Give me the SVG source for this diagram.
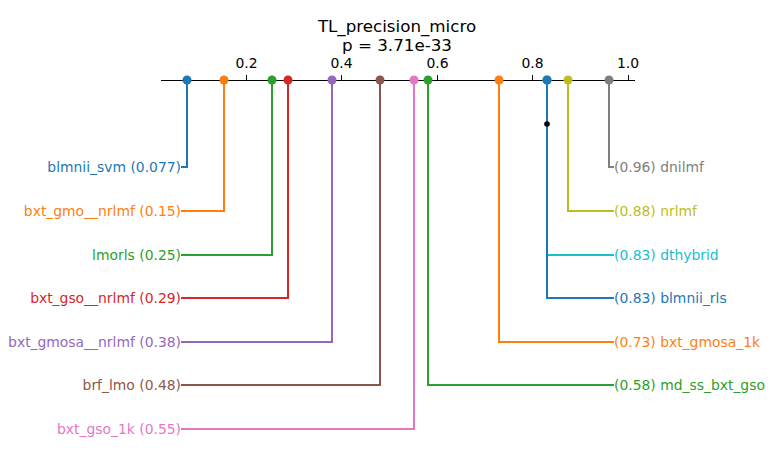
<svg xmlns="http://www.w3.org/2000/svg" width="774" height="462" viewBox="0 0 774 462">
<style>
text{font-family:"DejaVu Sans",sans-serif;font-size:13.9px}
.t{font-size:16.7px;text-anchor:middle;fill:#000}
.tk{text-anchor:middle;fill:#000}
.l{text-anchor:end}
.c path{fill:none;stroke-width:2}
</style>
<rect width="774" height="462" fill="#fff"/>
<g id="title">
<text class="t" x="397" y="32">TL_precision_micro</text>
<text class="t" x="397" y="51">p = 3.71e-33</text>
</g>
<g id="axis">
<line x1="161" y1="80.5" x2="635" y2="80.5" stroke="#000" stroke-width="1"/>
<g stroke="#000" stroke-width="1">
<line x1="246.5" y1="75" x2="246.5" y2="80"/>
<line x1="341.5" y1="75" x2="341.5" y2="80"/>
<line x1="437.5" y1="75" x2="437.5" y2="80"/>
<line x1="532.5" y1="75" x2="532.5" y2="80"/>
<line x1="628.5" y1="75" x2="628.5" y2="80"/>
</g>
<text class="tk" x="246.5" y="68">0.2</text>
<text class="tk" x="341.5" y="68">0.4</text>
<text class="tk" x="437.5" y="68">0.6</text>
<text class="tk" x="532.5" y="68">0.8</text>
<text class="tk" x="628" y="68">1.0</text>
</g>
<g id="connectors" class="c">
<path stroke="#1f77b4" d="M187 80V167H181"/>
<path stroke="#ff7f0e" d="M224 80V211H181"/>
<path stroke="#2ca02c" d="M272 80V255H181"/>
<path stroke="#d62728" d="M288 80V298H181"/>
<path stroke="#9467bd" d="M332 80V342H181"/>
<path stroke="#8c564b" d="M380 80V385H181"/>
<path stroke="#e377c2" d="M414 80V429H181"/>
<path stroke="#2ca02c" d="M428 80V385H614"/>
<path stroke="#ff7f0e" d="M499 80V342H614"/>
<path stroke="#17becf" d="M547 80V255H614"/>
<path stroke="#1f77b4" d="M547 80V298H614"/>
<path stroke="#bcbd22" d="M568 80V211H614"/>
<path stroke="#7f7f7f" d="M609 80V167H614"/>
</g>
<g id="clique">
<circle cx="547" cy="124" r="2.8" fill="#000"/>
</g>
<g id="dots">
<circle cx="187" cy="80" r="4.5" fill="#1f77b4"/>
<circle cx="224" cy="80" r="4.5" fill="#ff7f0e"/>
<circle cx="272" cy="80" r="4.5" fill="#2ca02c"/>
<circle cx="288" cy="80" r="4.5" fill="#d62728"/>
<circle cx="332" cy="80" r="4.5" fill="#9467bd"/>
<circle cx="380" cy="80" r="4.5" fill="#8c564b"/>
<circle cx="414" cy="80" r="4.5" fill="#e377c2"/>
<circle cx="428" cy="80" r="4.5" fill="#2ca02c"/>
<circle cx="499" cy="80" r="4.5" fill="#ff7f0e"/>
<circle cx="547" cy="80" r="4.5" fill="#17becf"/>
<circle cx="547" cy="80" r="4.5" fill="#1f77b4"/>
<circle cx="568" cy="80" r="4.5" fill="#bcbd22"/>
<circle cx="609" cy="80" r="4.5" fill="#7f7f7f"/>
</g>
<g id="node-blmnii_svm"><text class="l" x="181" y="172" fill="#1f77b4">blmnii_svm (0.077)</text></g>
<g id="node-bxt_gmo__nrlmf"><text class="l" x="181" y="216" fill="#ff7f0e">bxt_gmo__nrlmf (0.15)</text></g>
<g id="node-lmorls"><text class="l" x="181" y="260" fill="#2ca02c">lmorls (0.25)</text></g>
<g id="node-bxt_gso__nrlmf"><text class="l" x="181" y="303" fill="#d62728">bxt_gso__nrlmf (0.29)</text></g>
<g id="node-bxt_gmosa__nrlmf"><text class="l" x="181" y="347" fill="#9467bd">bxt_gmosa__nrlmf (0.38)</text></g>
<g id="node-brf_lmo"><text class="l" x="181" y="390" fill="#8c564b">brf_lmo (0.48)</text></g>
<g id="node-bxt_gso_1k"><text class="l" x="181" y="434" fill="#e377c2">bxt_gso_1k (0.55)</text></g>
<g id="node-dnilmf"><text x="614" y="172" fill="#7f7f7f">(0.96) dnilmf</text></g>
<g id="node-nrlmf"><text x="614" y="216" fill="#bcbd22">(0.88) nrlmf</text></g>
<g id="node-dthybrid"><text x="614" y="260" fill="#17becf">(0.83) dthybrid</text></g>
<g id="node-blmnii_rls"><text x="614" y="303" fill="#1f77b4">(0.83) blmnii_rls</text></g>
<g id="node-bxt_gmosa_1k"><text x="614" y="347" fill="#ff7f0e">(0.73) bxt_gmosa_1k</text></g>
<g id="node-md_ss_bxt_gso"><text x="614" y="390" fill="#2ca02c">(0.58) md_ss_bxt_gso</text></g>
</svg>
